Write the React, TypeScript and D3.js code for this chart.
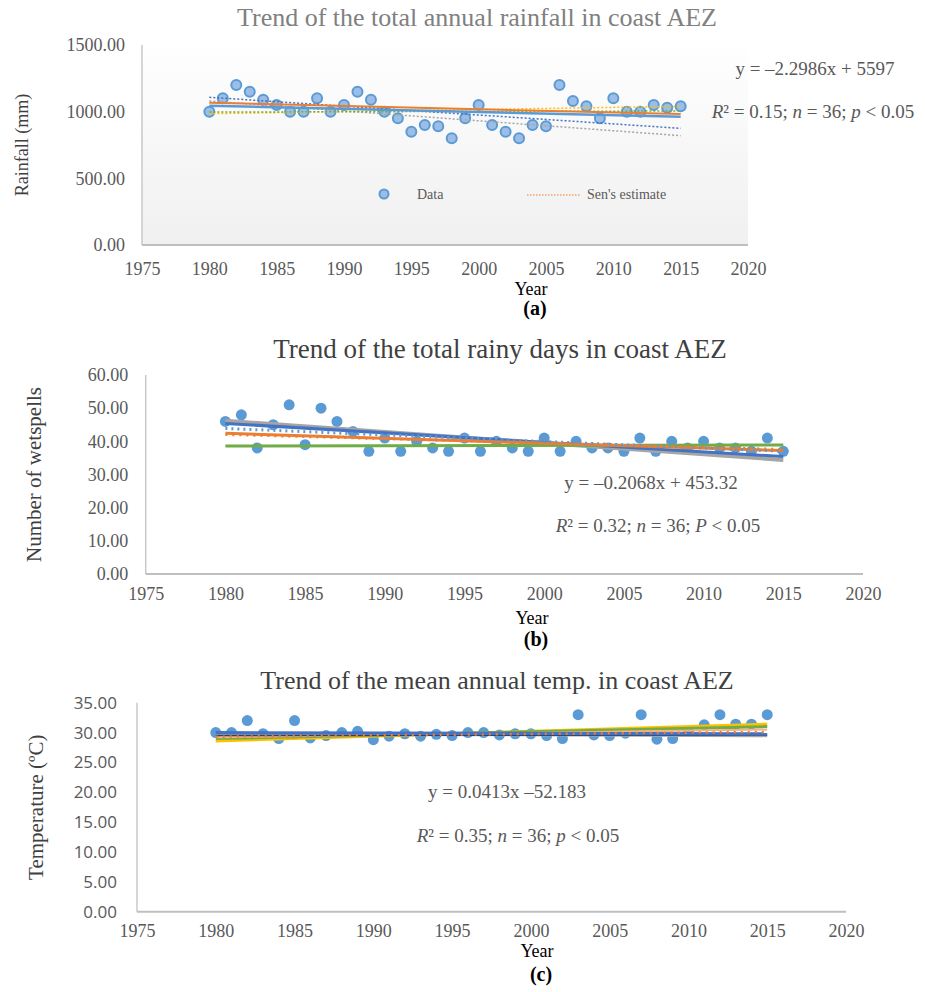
import { useEffect, useRef } from "react"
import * as d3 from "d3"

// ---- data ----
const years = d3.range(1980, 2016)

const rainfall = [1000, 1100, 1200, 1150, 1090, 1050, 1000, 1000, 1100, 1000, 1050, 1150,
    1090, 1000, 950, 850, 900, 890, 800, 950, 1050, 900, 850, 800, 900, 890, 1200, 1080,
    1040, 950, 1100, 1000, 1000, 1050, 1030, 1040]

const rainyDays = [46, 48, 38, 45, 51, 39, 50, 46, 43, 37, 41, 37, 40, 38, 37, 41, 37, 40,
    38, 37, 41, 37, 40, 38, 38, 37, 41, 37, 40, 38, 40, 38, 38, 37, 41, 37]

const temperature = [30.0, 30.0, 32.0, 29.8, 29.0, 32.0, 29.1, 29.5, 30.0, 30.2, 28.8, 29.4,
    29.8, 29.4, 29.7, 29.5, 30.0, 30.0, 29.6, 29.8, 29.8, 29.5, 29.0, 33.0, 29.6, 29.5, 29.9,
    33.0, 28.9, 29.0, 30.2, 31.3, 33.0, 31.4, 31.4, 33.0]

// trend lines: value at 1980 and at 2015
const rainTrendStart = [1080, 1108, 985, 997, 1045, 1067]
const rainTrendEnd = [820, 875, 1040, 1005, 962, 982]

const daysTrendStart = [46.2, 45.4, 38.6, 42.4, 43.9, 42.0]
const daysTrendEnd = [34.4, 35.4, 38.9, 37.2, 37.0, 37.6]

const tempTrendStart = [28.6, 29.0, 29.2, 29.7, 29.5, 30.0, 29.3]
const tempTrendEnd = [31.4, 31.0, 30.5, 29.4, 29.6, 29.8, 30.1]

const xTicks = d3.range(1975, 2021, 5)

const rainStyles = [
    { color: '#a5a5a5', width: 1.5, dash: '2,2' },
    { color: '#4472c4', width: 1.5, dash: '2,2' },
    { color: '#ffc000', width: 1.5, dash: '2,2' },
    { color: '#70ad47', width: 1.5, dash: '2,2' },
    { color: '#5b9bd5', width: 2.5, dash: null },
    { color: '#ed7d31', width: 2, dash: null },
]
const daysStyles = [
    { color: '#a5a5a5', width: 4, dash: null },
    { color: '#4472c4', width: 3, dash: null },
    { color: '#70ad47', width: 3, dash: null },
    { color: '#ed7d31', width: 3, dash: null },
    { color: '#5b9bd5', width: 3, dash: '2,4' },
    { color: '#ed7d31', width: 2.5, dash: '2,5' },
]
const tempStyles = [
    { color: '#ffc000', width: 3, dash: null },
    { color: '#70ad47', width: 3, dash: null },
    { color: '#f4b183', width: 2, dash: null },
    { color: '#a5a5a5', width: 2, dash: null },
    { color: '#264478', width: 1.5, dash: null },
    { color: '#4472c4', width: 3, dash: null },
    { color: '#ed7d31', width: 2.5, dash: '2,5' },
]

const serif = "'Liberation Serif', 'Times New Roman', serif"
const sans = "'Open Sans', 'Noto Sans', sans-serif"
const textColor = '#595959'

const panels = [
    {
        key: 'a', title: 'Trend of the total annual rainfall in coast AEZ', titleColor: '#808080', titleSize: 26,
        titleX: 477, titleY: 26, yLabel: 'Rainfall (mm)', yLabelX: 22, yLabelSize: 18,
        values: rainfall, tStart: rainTrendStart, tEnd: rainTrendEnd, styles: rainStyles,
        left: 142, right: 748, top: 45, bottom: 245, yMax: 1500, yStep: 500,
        tickFont: serif, tickPad: 17, xLabelDy: 30, yearY: 295, yearX: 531, letter: '(a)', letterY: 315,
        eq: 'y = \u20132.2986x + 5597', eqX: 815, eqY: 75,
        stat: ['0.15', 'p'], statX: 813, statY: 118, hollow: true, gradient: true,
    },
    {
        key: 'b', title: 'Trend of the total rainy days in coast AEZ', titleColor: '#404040', titleSize: 27,
        titleX: 500, titleY: 358, yLabel: 'Number of wetspells', yLabelX: 34, yLabelSize: 21,
        values: rainyDays, tStart: daysTrendStart, tEnd: daysTrendEnd, styles: daysStyles,
        left: 145.7, right: 863, top: 375, bottom: 574, yMax: 60, yStep: 10,
        tickFont: serif, tickPad: 17.5, xLabelDy: 26, yearY: 624, yearX: 532, letter: '(b)', letterY: 646,
        eq: 'y = \u20130.2068x + 453.32', eqX: 651, eqY: 489,
        stat: ['0.32', 'P'], statX: 658, statY: 532, hollow: false, gradient: false,
    },
    {
        key: 'c', title: 'Trend of the mean annual temp. in coast AEZ', titleColor: '#404040', titleSize: 26,
        titleX: 497, titleY: 689, yLabel: 'Temperature (\u00baC)', yLabelX: 36, yLabelSize: 21,
        values: temperature, tStart: tempTrendStart, tEnd: tempTrendEnd, styles: tempStyles,
        left: 137, right: 846, top: 702.7, bottom: 911.7, yMax: 35, yStep: 5,
        tickFont: sans, tickPad: 20, xLabelDy: 25, yearY: 957, yearX: 537, letter: '(c)', letterY: 981,
        eq: 'y = 0.0413x \u201352.183', eqX: 507, eqY: 798,
        stat: ['0.35', 'p'], statX: 518, statY: 842, hollow: false, gradient: false,
    },
]

export default function App() {
    const ref = useRef<SVGSVGElement>(null)

    useEffect(() => {
        const svg = d3.select(ref.current)
        svg.selectAll('*').remove()

        const defs = svg.append('defs')
        const grad = defs.append('linearGradient')
            .attr('id', 'plotBg')
            .attr('x1', 0).attr('y1', 0).attr('x2', 0).attr('y2', 1)
        grad.append('stop').attr('offset', '0%').attr('stop-color', '#ffffff')
        grad.append('stop').attr('offset', '100%').attr('stop-color', '#f0f0f0')

        panels.forEach((p) => {
            const g = svg.append('g').attr('class', 'panel-' + p.key)

            const xScale = d3.scaleLinear().domain([1975, 2020]).range([p.left, p.right])
            const yScale = d3.scaleLinear().domain([0, p.yMax]).range([p.bottom, p.top])

            if (p.gradient) {
                g.append('rect')
                    .attr('x', p.left)
                    .attr('y', p.top - 5)
                    .attr('width', p.right - p.left)
                    .attr('height', p.bottom - p.top + 5)
                    .attr('fill', 'url(#plotBg)')
            }

            // title
            g.append('text')
                .attr('x', p.titleX)
                .attr('y', p.titleY)
                .attr('text-anchor', 'middle')
                .style('font-family', serif)
                .style('font-size', p.titleSize + 'px')
                .attr('fill', p.titleColor)
                .text(p.title)

            // y axis
            const yAxis = d3.axisLeft(yScale)
                .tickValues(d3.range(0, p.yMax + p.yStep / 2, p.yStep))
                .tickSize(0)
                .tickPadding(p.tickPad)
                .tickFormat(d3.format('.2f'))

            const yG = g.append('g')
                .attr('transform', `translate(${p.left},0)`)
                .call(yAxis)
            yG.select('.domain').remove()
            yG.selectAll('text')
                .style('font-family', p.tickFont)
                .style('font-size', p.tickFont === sans ? '17px' : '18px')
                .attr('fill', textColor)

            // x axis
            const xAxis = d3.axisBottom(xScale)
                .tickValues(xTicks)
                .tickSize(0)
                .tickFormat(d3.format('d'))

            const xG = g.append('g')
                .attr('transform', `translate(0,${p.bottom})`)
                .call(xAxis)
            xG.select('.domain').remove()
            xG.selectAll('text')
                .attr('y', p.xLabelDy)
                .attr('dy', 0)
                .style('font-family', serif)
                .style('font-size', '18px')
                .attr('fill', textColor)

            // axis lines
            g.append('line')
                .attr('x1', p.left).attr('x2', p.left)
                .attr('y1', p.top).attr('y2', p.bottom)
                .attr('stroke', '#c8c8c8').attr('stroke-width', 1.5)
            g.append('line')
                .attr('x1', p.left).attr('x2', p.right)
                .attr('y1', p.bottom).attr('y2', p.bottom)
                .attr('stroke', '#bfbfbf').attr('stroke-width', 2)

            // y label
            g.append('text')
                .attr('transform', `translate(${p.yLabelX},${(p.top + p.bottom) / 2}) rotate(-90)`)
                .attr('text-anchor', 'middle')
                .attr('dy', '0.35em')
                .style('font-family', serif)
                .style('font-size', p.yLabelSize + 'px')
                .attr('fill', '#404040')
                .text(p.yLabel)

            // Year + panel letter
            g.append('text')
                .attr('x', p.yearX).attr('y', p.yearY)
                .attr('text-anchor', 'middle')
                .style('font-family', serif)
                .style('font-size', '18px')
                .attr('fill', '#000')
                .text('Year')
            g.append('text')
                .attr('x', p.yearX + 4).attr('y', p.letterY)
                .attr('text-anchor', 'middle')
                .style('font-family', serif)
                .style('font-size', '20px')
                .style('font-weight', 'bold')
                .attr('fill', '#000')
                .text(p.letter)

            // points
            const pts = g.append('g')
            pts.selectAll('circle')
                .data(p.values)
                .join('circle')
                .attr('cx', (d, i) => xScale(years[i]))
                .attr('cy', (d) => yScale(d))
                .attr('r', p.hollow ? 5 : 5.5)
                .attr('fill', p.hollow ? '#9bbde6' : '#5b9bd5')
                .attr('stroke', p.hollow ? '#5b9bd5' : 'none')
                .attr('stroke-width', 2)

            // trend lines (drawn over points like the source)
            const trendLine = d3.line<number[]>()
                .x((d) => xScale(d[0]))
                .y((d) => yScale(d[1]))

            const trends = g.append('g')
            p.styles.forEach((s, i) => {
                const path = trends.append('path')
                    .attr('fill', 'none')
                    .attr('stroke', s.color)
                    .attr('stroke-width', s.width)
                    .attr('d', trendLine([[1980, p.tStart[i]], [2015, p.tEnd[i]]]))
                if (s.dash) path.attr('stroke-dasharray', s.dash)
            })

            // equation + stats
            g.append('text')
                .attr('x', p.eqX).attr('y', p.eqY)
                .attr('text-anchor', 'middle')
                .style('font-family', serif)
                .style('font-size', '19px')
                .attr('fill', textColor)
                .text(p.eq)

            const stat = g.append('text')
                .attr('x', p.statX).attr('y', p.statY)
                .attr('text-anchor', 'middle')
                .style('font-family', serif)
                .style('font-size', '19px')
                .attr('fill', textColor)
            stat.append('tspan').style('font-style', 'italic').text('R')
            stat.append('tspan').text(`\u00b2 = ${p.stat[0]}; `)
            stat.append('tspan').style('font-style', 'italic').text('n')
            stat.append('tspan').text(' = 36; ')
            stat.append('tspan').style('font-style', 'italic').text(p.stat[1])
            stat.append('tspan').text(' < 0.05')

            // legend (panel a only)
            if (p.key === 'a') {
                const lg = g.append('g')
                lg.append('circle')
                    .attr('cx', 384).attr('cy', 194).attr('r', 4.5)
                    .attr('fill', '#9bbde6').attr('stroke', '#5b9bd5').attr('stroke-width', 2)
                lg.append('text')
                    .attr('x', 417).attr('y', 199)
                    .style('font-family', serif).style('font-size', '14px')
                    .attr('fill', textColor)
                    .text('Data')
                lg.append('line')
                    .attr('x1', 527).attr('x2', 580).attr('y1', 195).attr('y2', 195)
                    .attr('stroke', '#f4a26a').attr('stroke-width', 1.5)
                    .attr('stroke-dasharray', '1.5,1.5')
                lg.append('text')
                    .attr('x', 587).attr('y', 199)
                    .style('font-family', serif).style('font-size', '14px')
                    .attr('fill', textColor)
                    .text("Sen's estimate")
            }
        })
    }, [])

    return (
        <svg
            ref={ref}
            width={925}
            height={992}
            style={{ position: 'absolute', left: 0, top: 0, background: '#fff' }}
        />
    )
}
